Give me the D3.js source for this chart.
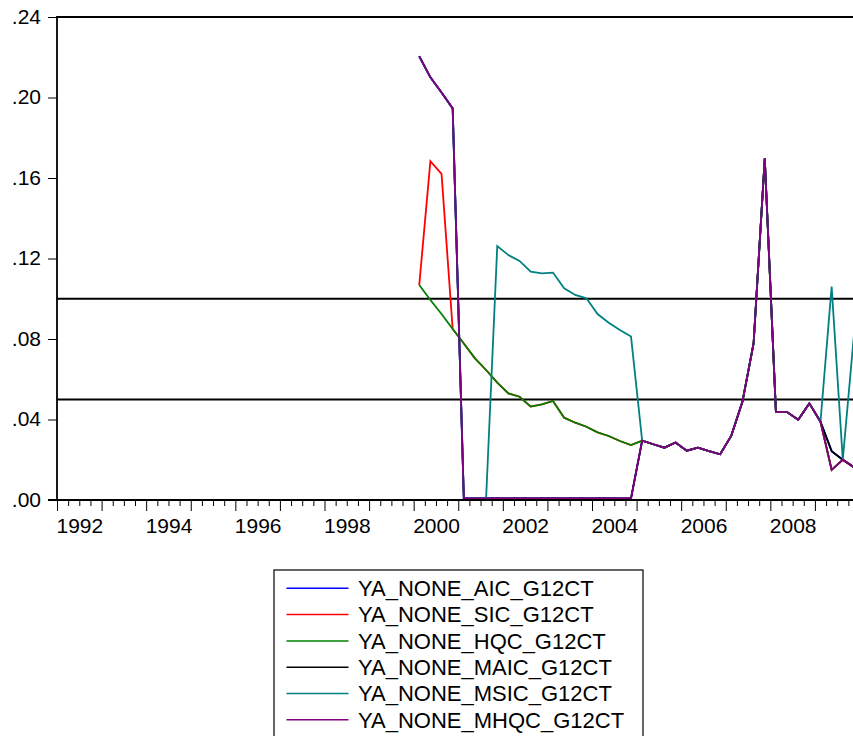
<!DOCTYPE html>
<html>
<head>
<meta charset="utf-8">
<script src="https://cdn.jsdelivr.net/npm/d3@7"></script>
<style>
  html, body { margin: 0; padding: 0; background: #fff; }
  svg { display: block; }
  text { font-family: "Liberation Sans", Arial, sans-serif; fill: #000; }
</style>
</head>
<body>
<svg id="chart" width="853" height="736"></svg>
<script>
// Quarterly observations, 2000Q1 .. 2009Q4
const quarters = [
  "2000Q1","2000Q2","2000Q3","2000Q4","2001Q1","2001Q2","2001Q3","2001Q4",
  "2002Q1","2002Q2","2002Q3","2002Q4","2003Q1","2003Q2","2003Q3","2003Q4",
  "2004Q1","2004Q2","2004Q3","2004Q4","2005Q1","2005Q2","2005Q3","2005Q4",
  "2006Q1","2006Q2","2006Q3","2006Q4","2007Q1","2007Q2","2007Q3","2007Q4",
  "2008Q1","2008Q2","2008Q3","2008Q4","2009Q1","2009Q2","2009Q3","2009Q4"
];

const aic = [
  0.2205, 0.2100, 0.2025, 0.1946, 0.0008, 0.0008, 0.0008, 0.0008,
  0.0008, 0.0008, 0.0008, 0.0008, 0.0008, 0.0008, 0.0008, 0.0008,
  0.0008, 0.0008, 0.0008, 0.0008, 0.0295, 0.0277, 0.0260, 0.0286,
  0.0245, 0.0260, 0.0243, 0.0227, 0.0320, 0.0489, 0.0779, 0.1698,
  0.0439, 0.0437, 0.0399, 0.0480, 0.0389, 0.0243, 0.0200, 0.0163
];
const sic = [
  0.1068, 0.1684, 0.1620, 0.0850, 0.0778, 0.0704, 0.0646, 0.0583,
  0.0530, 0.0513, 0.0464, 0.0475, 0.0492, 0.0409, 0.0384, 0.0364,
  0.0336, 0.0318, 0.0293, 0.0273, 0.0295, 0.0277, 0.0260, 0.0286,
  0.0245, 0.0260, 0.0243, 0.0227, 0.0320, 0.0489, 0.0779, 0.1698,
  0.0439, 0.0437, 0.0399, 0.0480, 0.0389, 0.0150, 0.0200, 0.0163
];
const hqc = [
  0.1068, 0.0994, 0.0924, 0.0850, 0.0778, 0.0704, 0.0646, 0.0583,
  0.0530, 0.0513, 0.0464, 0.0475, 0.0492, 0.0409, 0.0384, 0.0364,
  0.0336, 0.0318, 0.0293, 0.0273, 0.0295, 0.0277, 0.0260, 0.0286,
  0.0245, 0.0260, 0.0243, 0.0227, 0.0320, 0.0489, 0.0779, 0.1698,
  0.0439, 0.0437, 0.0399, 0.0480, 0.0389, 0.0150, 0.0200, 0.0163
];
const maic = [
  0.2205, 0.2100, 0.2025, 0.1946, 0.0008, 0.0008, 0.0008, 0.0008,
  0.0008, 0.0008, 0.0008, 0.0008, 0.0008, 0.0008, 0.0008, 0.0008,
  0.0008, 0.0008, 0.0008, 0.0008, 0.0295, 0.0277, 0.0260, 0.0286,
  0.0245, 0.0260, 0.0243, 0.0227, 0.0320, 0.0489, 0.0779, 0.1698,
  0.0439, 0.0437, 0.0399, 0.0480, 0.0389, 0.0243, 0.0200, 0.0163
];
const msic = [
  0.2205, 0.2100, 0.2025, 0.1946, 0.0008, 0.0008, 0.0008, 0.1262,
  0.1217, 0.1188, 0.1135, 0.1126, 0.1130, 0.1052, 0.1019, 0.1002,
  0.0924, 0.0881, 0.0845, 0.0812, 0.0295, 0.0277, 0.0260, 0.0286,
  0.0245, 0.0260, 0.0243, 0.0227, 0.0320, 0.0489, 0.0779, 0.1698,
  0.0439, 0.0437, 0.0399, 0.0480, 0.0389, 0.1060, 0.0200, 0.0820
];
const mhqc = [
  0.2205, 0.2100, 0.2025, 0.1946, 0.0008, 0.0008, 0.0008, 0.0008,
  0.0008, 0.0008, 0.0008, 0.0008, 0.0008, 0.0008, 0.0008, 0.0008,
  0.0008, 0.0008, 0.0008, 0.0008, 0.0295, 0.0277, 0.0260, 0.0286,
  0.0245, 0.0260, 0.0243, 0.0227, 0.0320, 0.0489, 0.0779, 0.1698,
  0.0439, 0.0437, 0.0399, 0.0480, 0.0389, 0.0150, 0.0200, 0.0163
];

const seriesNames = [
  "YA_NONE_AIC_G12CT", "YA_NONE_SIC_G12CT", "YA_NONE_HQC_G12CT",
  "YA_NONE_MAIC_G12CT", "YA_NONE_MSIC_G12CT", "YA_NONE_MHQC_G12CT"
];
const seriesValues = [aic, sic, hqc, maic, msic, mhqc];
const seriesColors = ["#0000FF", "#FF0000", "#008000", "#000000", "#008080", "#800080"];

const yTicks = [0, 0.04, 0.08, 0.12, 0.16, 0.20, 0.24];
const yearTicks = d3.range(1992, 2010);
const yearLabels = [1992, 1994, 1996, 1998, 2000, 2002, 2004, 2006, 2008];
const refLevels = [0.10, 0.05];

// Layout
const plotLeft = 57, plotTop = 17, plotBottom = 500, plotRight = 859.5;

const svg = d3.select("#chart");

const x = d3.scaleLinear().domain([1992, 2010]).range([plotLeft, plotRight]);
const y = d3.scaleLinear().domain([0, 0.24]).range([plotBottom, plotTop]);

// quarter "YYYYQn" -> mid-quarter position in fractional years
const qTime = q => +q.slice(0, 4) + (+q.slice(5) - 0.5) / 4;

// Y axis ticks (outside, to the left)
const yAxis = d3.axisLeft(y)
  .tickValues(yTicks)
  .tickSize(9)
  .tickPadding(7)
  .tickFormat(d => d3.format(".2f")(d).replace(/^0/, ""));
const gy = svg.append("g").attr("transform", `translate(${plotLeft},0)`).call(yAxis);
gy.select(".domain").remove();
gy.selectAll("line").attr("stroke", "#000").attr("stroke-width", 1);
gy.selectAll("text").attr("font-size", 21).attr("dy", "0.30em")
  .style("font-family", '"Liberation Sans", Arial, sans-serif');

// X axis: quarterly minor ticks
const quarterTicks = d3.range(1992, 2010.01, 0.25).filter(t => t % 1 !== 0);
const gxMinor = svg.append("g").attr("transform", `translate(0,${plotBottom})`)
  .call(d3.axisBottom(x).tickValues(quarterTicks).tickSize(6).tickFormat(""));
gxMinor.select(".domain").remove();
gxMinor.selectAll("line").attr("stroke", "#000").attr("stroke-width", 1);

// X axis: yearly major ticks with labels every other year
const gx = svg.append("g").attr("transform", `translate(0,${plotBottom})`)
  .call(d3.axisBottom(x).tickValues(yearTicks).tickSize(11)
    .tickFormat(d => yearLabels.includes(d) ? String(d) : ""));
gx.select(".domain").remove();
gx.selectAll("line").attr("stroke", "#000").attr("stroke-width", 1);
gx.selectAll("text")
  .attr("font-size", 21)
  .attr("text-anchor", "start")
  .attr("x", -1)
  .attr("y", 33)
  .attr("dy", 0)
  .style("font-family", '"Liberation Sans", Arial, sans-serif');

// Reference levels
svg.append("g").selectAll("line").data(refLevels).join("line")
  .attr("x1", plotLeft).attr("x2", plotRight)
  .attr("y1", d => y(d)).attr("y2", d => y(d))
  .attr("stroke", "#000").attr("stroke-width", 2);

// Series lines
const line = d3.line()
  .x((d, i) => x(qTime(quarters[i])))
  .y(d => y(d));

svg.append("g").selectAll("path").data(seriesValues).join("path")
  .attr("d", d => line(d))
  .attr("fill", "none")
  .attr("stroke", (d, i) => seriesColors[i])
  .attr("stroke-width", 1.8)
  .attr("stroke-linejoin", "miter");

// Plot frame
const frame = svg.append("g").attr("stroke", "#000").attr("stroke-width", 1.8).attr("fill", "none");
frame.append("path")
  .attr("d", `M${plotLeft},${plotBottom}V${plotTop}H${plotRight}`);
frame.append("line")
  .attr("x1", plotLeft - 9).attr("x2", plotRight)
  .attr("y1", plotBottom).attr("y2", plotBottom);

// Legend
const legX = 274, legY = 570, legW = 369, rowH = 26.3;
const leg = svg.append("g");
leg.append("rect")
  .attr("x", legX).attr("y", legY).attr("width", legW).attr("height", 200)
  .attr("fill", "#fff").attr("stroke", "#000").attr("stroke-width", 1.2);
const rows = leg.selectAll("g.row").data(seriesNames).join("g")
  .attr("class", "row")
  .attr("transform", (d, i) => `translate(0,${legY + 18.3 + i * rowH})`);
rows.append("line")
  .attr("x1", 286.5).attr("x2", 348.5)
  .attr("y1", 0).attr("y2", 0)
  .attr("stroke", (d, i) => seriesColors[i])
  .attr("stroke-width", 1.5);
rows.append("text")
  .attr("x", 358).attr("y", 7.8)
  .attr("font-size", 22)
  .text(d => d);
</script>
</body>
</html>
